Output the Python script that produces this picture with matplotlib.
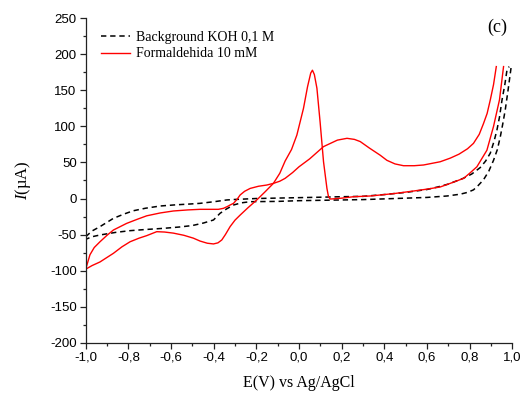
import matplotlib
matplotlib.use("Agg")
import matplotlib.pyplot as plt
from matplotlib.ticker import MultipleLocator, FuncFormatter

# Voltamogramas: barrido directo (fwd) y de regreso (rev)
red_fwd_x = [-1.0, -0.98, -0.96, -0.933, -0.9, -0.87, -0.808, -0.76, -0.714, -0.65, -0.589, -0.52,
             -0.464, -0.42, -0.378, -0.354, -0.335, -0.323, -0.307, -0.29, -0.276, -0.255, -0.229,
             -0.19, -0.151, -0.12, -0.09, -0.065, -0.03, 0.0, 0.05, 0.115, 0.18, 0.225, 0.26, 0.287,
             0.33, 0.381, 0.412, 0.45, 0.49, 0.54, 0.584, 0.662, 0.709, 0.75, 0.79, 0.818, 0.845,
             0.865, 0.882, 0.897, 0.912, 0.925]
red_fwd_y = [-98, -78, -68, -60, -51, -43.7, -34.5, -29, -24, -20, -17.3, -15.8,
             -15, -15, -15, -13.6, -11, -9, -6.7, -1, 4.9, 10, 14,
             17, 18.7, 21, 24, 28, 36, 44, 55, 72, 81, 83.5, 82, 79,
             70, 60, 53, 48, 45.5, 45.5, 46.5, 51, 56, 61.5, 69, 76.5, 89,
             104, 118, 137, 158, 183]

red_rev_x = [0.959, 0.94, 0.912, 0.881, 0.834, 0.80, 0.772, 0.709, 0.662, 0.6, 0.537, 0.45, 0.381,
             0.334, 0.256, 0.2, 0.16, 0.146, 0.138, 0.131, 0.115, 0.099, 0.084, 0.072, 0.063, 0.055,
             0.04, 0.021, -0.01, -0.035, -0.065, -0.09, -0.12, -0.16, -0.198, -0.24, -0.276, -0.3,
             -0.323, -0.345, -0.362, -0.38, -0.401, -0.43, -0.464, -0.495, -0.54, -0.589, -0.63,
             -0.667, -0.714, -0.75, -0.792, -0.83, -0.87, -0.933, -0.97, -1.0]
red_rev_y = [183, 137, 100, 67, 44, 35, 28, 21, 16, 13, 10.4, 7, 4.9,
             3.5, 2.5, 0.5, -0.5, -0.7, 3, 14, 51, 106, 153, 172, 178, 174,
             155, 125, 88, 68, 52, 35, 21, 9, -2, -13, -23, -30,
             -39, -50, -57.5, -61.5, -63, -62, -59, -55, -51, -48, -46.5,
             -46, -51.5, -55, -60, -67, -76, -88, -93, -98]

koh_fwd_x = [-1.0, -0.97, -0.933, -0.9, -0.87, -0.82, -0.777, -0.72, -0.651, -0.58, -0.51, -0.464,
             -0.4, -0.338, -0.3, -0.2, -0.1, 0.0, 0.1, 0.2, 0.3, 0.4, 0.5, 0.6, 0.65, 0.7, 0.77,
             0.81, 0.85, 0.875, 0.897, 0.915, 0.928, 0.94, 0.952, 0.965, 0.975, 0.985]
koh_fwd_y = [-53, -45, -39, -33, -27.5, -21.5, -17, -13.5, -10.4, -8.8, -7.6, -6.7,
             -4.5, -2, -1.3, 0, 0.6, 1.2, 1.8, 2.5, 3, 5.5, 8.5, 12.5, 16, 20, 28,
             34, 43, 52, 63, 80, 95, 113, 137, 158, 178, 183]

koh_rev_x = [0.994, 0.98, 0.967, 0.955, 0.944, 0.93, 0.912, 0.89, 0.865, 0.84, 0.818, 0.79, 0.756,
             0.694, 0.6, 0.5, 0.4, 0.3, 0.2, 0.1, 0.0, -0.1, -0.229, -0.27, -0.307, -0.34, -0.37,
             -0.401, -0.448, -0.5, -0.56, -0.636, -0.72, -0.792, -0.86, -0.933, -0.97, -1.0]
koh_rev_y = [181, 150, 123, 103, 86, 68, 53, 38, 26, 18, 12, 8.5, 6,
             3.5, 1.5, 0.5, -0.5, -1.5, -2, -2.5, -3, -4, -4.4, -6, -9, -14.5, -20.5,
             -29.8, -34, -37.5, -39.5, -41.4, -43, -44.6, -47, -50.6, -53, -56.6]

etiquetas = ["Background KOH 0,1 M", "Formaldehida 10 mM"]

plt.rcParams["mathtext.fontset"] = "custom"
plt.rcParams["mathtext.it"] = "Liberation Serif:italic"
plt.rcParams["mathtext.rm"] = "Liberation Serif"

fig = plt.figure(figsize=(5.27, 3.94), dpi=100)
ax = fig.add_axes([0.1626, 0.1302, 0.8095, 0.8234])

ax.plot(koh_fwd_x, koh_fwd_y, color="black", lw=1.1, dashes=(3.5, 2.5), label=etiquetas[0])
ax.plot(koh_rev_x, koh_rev_y, color="black", lw=1.1, dashes=(3.5, 2.5))
ax.plot(red_fwd_x, red_fwd_y, color="#ff0000", lw=1.0, label=etiquetas[1])
ax.plot(red_rev_x, red_rev_y, color="#ff0000", lw=1.0)

ax.set_xlim(-1.0, 1.0)
ax.set_ylim(-200, 250)

ax.spines["top"].set_visible(False)
ax.spines["right"].set_visible(False)
for s in ["left", "bottom"]:
    ax.spines[s].set_color("#222222")
    ax.spines[s].set_linewidth(0.9)

ax.xaxis.set_major_locator(MultipleLocator(0.2))
ax.xaxis.set_minor_locator(MultipleLocator(0.1))
ax.yaxis.set_major_locator(MultipleLocator(50))
ax.yaxis.set_minor_locator(MultipleLocator(25))
ax.xaxis.set_major_formatter(FuncFormatter(lambda v, p: f"{round(v, 1) + 0.0:.1f}".replace(".", ",")))
ax.yaxis.set_major_formatter(FuncFormatter(lambda v, p: f"{int(round(v))}"))

ax.tick_params(which="major", direction="out", length=4, width=0.9, color="#222222",
               labelsize=9.5, pad=2.5)
ax.tick_params(which="minor", direction="out", length=2, width=0.9, color="#222222")
for lab in ax.get_xticklabels() + ax.get_yticklabels():
    lab.set_fontfamily("Liberation Sans")

ax.set_xlabel("E(V) vs Ag/AgCl", fontfamily="Liberation Serif", fontsize=11.5, labelpad=8)
ax.set_ylabel(r"$I$(µA)", fontfamily="Liberation Serif", fontsize=12, labelpad=12)

leg = ax.legend(loc="upper left", bbox_to_anchor=(0.036, 0.961), frameon=False,
                prop={"family": "Liberation Serif", "size": 10}, handlelength=2.1,
                handletextpad=0.45, labelspacing=0.25, borderpad=0, borderaxespad=0)

ax.text(0.965, 0.973, "(c)", transform=ax.transAxes, ha="center", va="center",
        fontfamily="Liberation Serif", fontsize=13)

fig.savefig("out.png", dpi=100)
